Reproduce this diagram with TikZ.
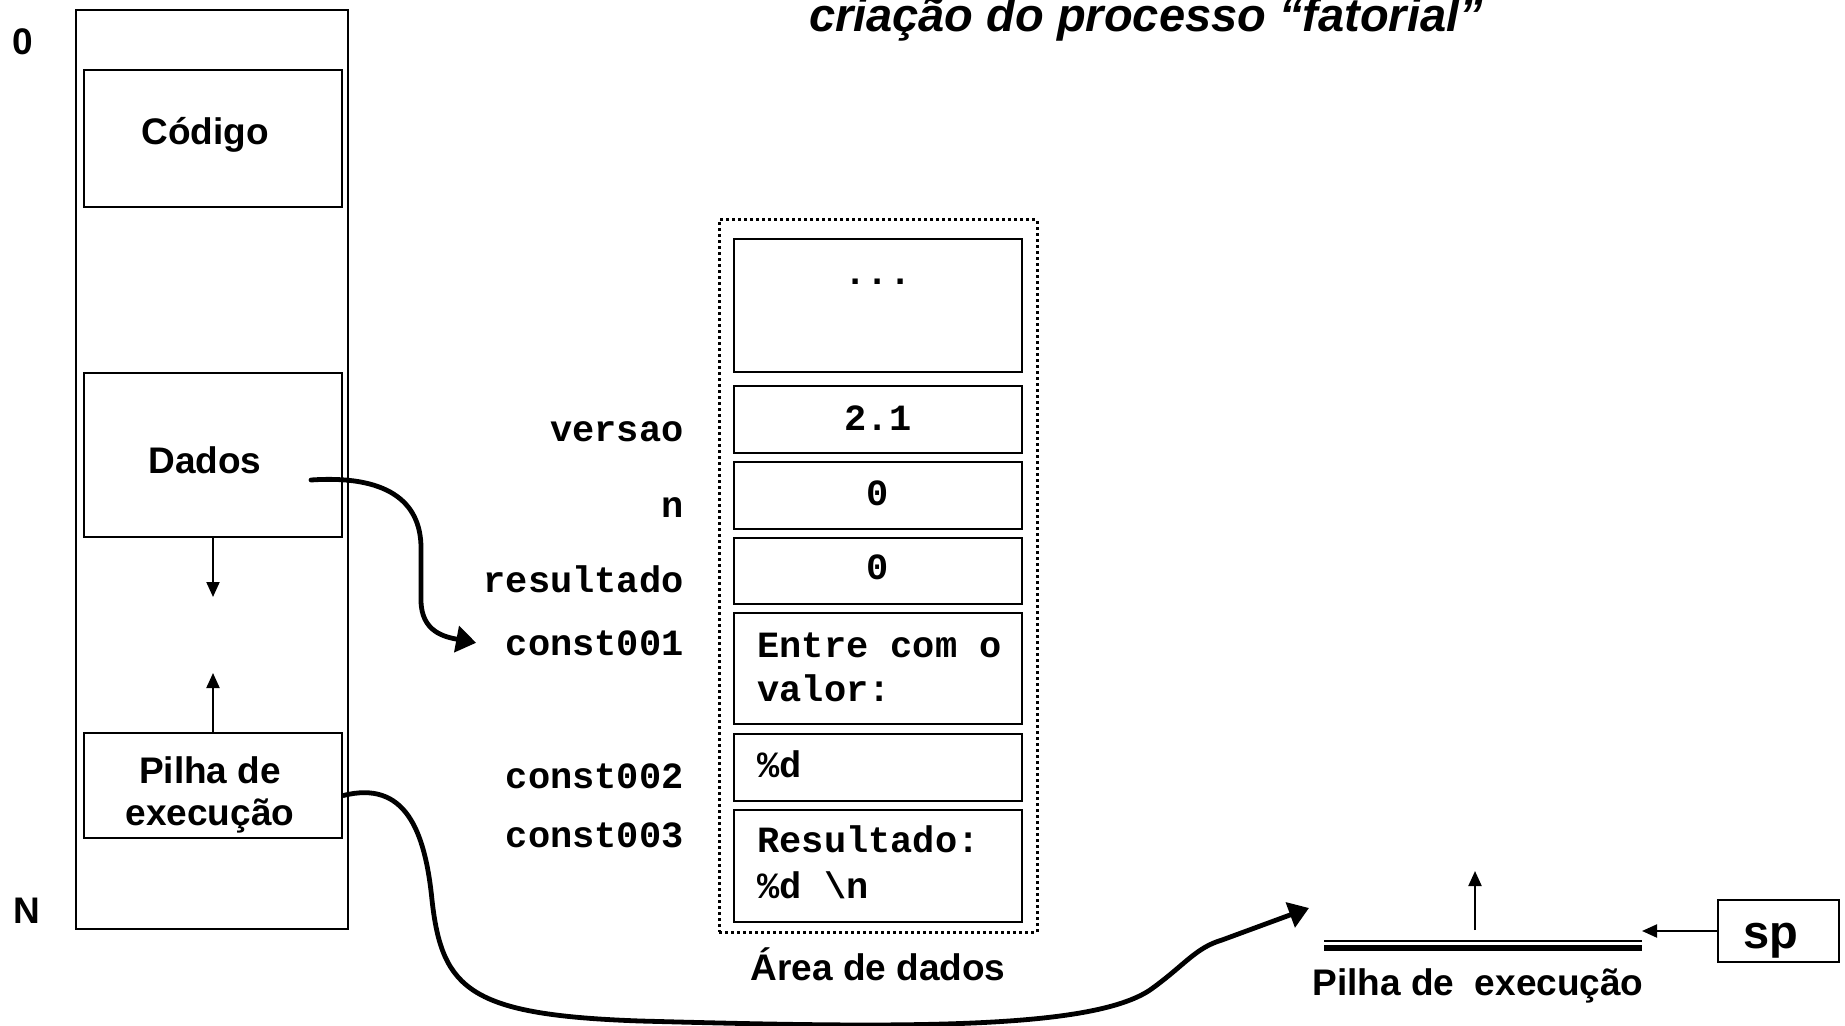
\documentclass[tikz,border=0pt]{standalone}
\usepackage{fontspec}
\setmainfont{Liberation Sans}
\setmonofont{Liberation Mono}
\usetikzlibrary{arrows.meta}

\begin{document}
\begin{tikzpicture}[x=0.5pt,y=0.5pt,yscale=-1,xscale=1,
  caixa/.style={draw, line width=1.35pt, inner sep=0pt},
  rotulo/.style={font=\bfseries\fontsize{18.5}{22.5}\selectfont, inner sep=0pt},
  mono/.style={font=\ttfamily\bfseries\fontsize{18.5}{22.5}\selectfont, inner sep=0pt},
  seta/.style={line width=1pt, -{Triangle[length=7.5pt,width=6.5pt]}},
  setagrossa/.style={line width=2.4pt, line cap=round, -{Triangle[length=10pt,width=13pt]}}]
\useasboundingbox (0,0) rectangle (1845,1026);

% Title
\draw (1146,32) node (titulo) [rotulo, anchor=base, font=\bfseries\itshape\fontsize{23.5}{28}\selectfont] {criação do processo “fatorial”};

%Shape: Rectangle (memoria do processo)
\node (memoria) [caixa, line width=1pt, minimum width=136pt, minimum height=459.5pt] at (212,469.5) {};
% Text Node
\draw (23,55) node (zero) [rotulo, anchor=base] {0};
% Text Node
\draw (27,923) node (fim) [rotulo, anchor=base] {N};

%Shape: Rectangle
\node (cod) [caixa, minimum width=129pt, minimum height=68.5pt] at (213,138.5) {};
% Text Node
\draw (205,145) node (codtxt) [rotulo, anchor=base] {Código};
%Shape: Rectangle
\node (dados) [caixa, minimum width=129pt, minimum height=82pt] at (213,455) {};
% Text Node
\draw (205,473) node (dadostxt) [rotulo, anchor=base] {Dados};
%Shape: Rectangle
\node (pilha) [caixa, minimum width=129pt, minimum height=52.5pt] at (213,785.5) {};
% Text Node
\draw (210,783) node (pilhatxt) [rotulo, anchor=base, font=\bfseries\fontsize{18.5}{21}\selectfont] {\begin{tabular}[t]{@{}c@{}}Pilha de\\execução\end{tabular}};

%Straight Lines
\coordinate (dadoscresce) at (213,597);
\draw [seta] (dados.south) -- (dadoscresce);
%Straight Lines
\coordinate (pilhacresce) at (213,673);
\draw [seta] (pilha.north) -- (pilhacresce);

%Shape: Rectangle (area de dados)
\node (area) [draw, line width=1.5pt, dash pattern=on 1.5pt off 1.5pt, minimum width=159pt, minimum height=356pt] at (878,576) {};
% Text Node
\draw (878,980) node (areatxt) [rotulo, anchor=base] {Área de dados};

%Shape: Rectangle
\node (vpont) [caixa, minimum width=144pt, minimum height=66.5pt] at (878,305.5) {};
\draw (878,285) node (vponttxt) [mono, anchor=base] {...};
%Shape: Rectangle
\node (vversao) [caixa, minimum width=144pt, minimum height=33.5pt] at (878,419.5) {};
\draw (878,430) node (vversaotxt) [mono, anchor=base] {2.1};
%Shape: Rectangle
\node (vn) [caixa, minimum width=144pt, minimum height=33.5pt] at (878,495.5) {};
\draw (878,505) node (vntxt) [mono, anchor=base] {0};
%Shape: Rectangle
\node (vres) [caixa, minimum width=144pt, minimum height=33pt] at (878,571) {};
\draw (878,579) node (vrestxt) [mono, anchor=base] {0};
%Shape: Rectangle
\node (vc1) [caixa, minimum width=144pt, minimum height=55.5pt] at (878,668.5) {};
\draw (757,657) node (vc1txt) [mono, anchor=base west, font=\ttfamily\bfseries\fontsize{18.5}{22}\selectfont] {\begin{tabular}[t]{@{}l@{}}Entre com o\\valor:\end{tabular}};
%Shape: Rectangle
\node (vc2) [caixa, minimum width=144pt, minimum height=33.5pt] at (878,767.5) {};
\draw (757,777) node (vc2txt) [mono, anchor=base west] {\%d};
%Shape: Rectangle
\node (vc3) [caixa, minimum width=144pt, minimum height=56pt] at (878,866) {};
\draw (757,852) node (vc3txt) [mono, anchor=base west, font=\ttfamily\bfseries\fontsize{18.5}{23}\selectfont] {\begin{tabular}[t]{@{}l@{}}Resultado:\\\%d \textbackslash n\end{tabular}};

% Text Node (nomes)
\draw (684,441) node (versao) [mono, anchor=base east] {versao};
\draw (684,517) node (n) [mono, anchor=base east] {n};
\draw (684,592) node (resultado) [mono, anchor=base east] {resultado};
\draw (684,655) node (const1) [mono, anchor=base east] {const001};
\draw (684,788) node (const2) [mono, anchor=base east] {const002};
\draw (684,847) node (const3) [mono, anchor=base east] {const003};

%Curve Lines (dados -> area de dados)
\draw [setagrossa] ([xshift=49pt,yshift=12.5pt]dados.center) .. controls (385,475) and (421,500) .. (421,548) -- (421,600) .. controls (421,632) and (445,637) .. ([xshift=-14.7pt]const1.west);

% Pilha de execucao (topo)
\coordinate (topoE) at (1324,941);
\coordinate (topoD) at (1642,941);
\draw [line width=1.25pt] (topoE) -- (topoD);
\draw [line width=3pt] ([yshift=3.4pt]topoE) -- ([yshift=3.4pt]topoD);
% Text Node
\draw (1478,995) node (topotxt) [rotulo, anchor=base] {Pilha de\ \ execução};
%Straight Lines
\coordinate (topoM) at (1475,930);
\coordinate (topocresce) at (1475,871);
\draw [seta] (topoM) -- (topocresce);

%Shape: Rectangle
\node (sp) [caixa, minimum width=60.5pt, minimum height=31pt] at (1778.5,931) {};
\draw (1771,948) node (sptxt) [rotulo, anchor=base, font=\bfseries\fontsize{23.5}{28}\selectfont] {sp};
%Straight Lines
\coordinate (spalvo) at (1642,931);
\draw [seta] (sp.west) -- (spalvo);

%Curve Lines (pilha -> pilha de execucao)
\coordinate (pilhaalvo) at (1309,908);
\draw [setagrossa] ([yshift=5pt]pilha.east) .. controls (405,780) and (425,830) .. (432,900) .. controls (442,990) and (470,1015) .. (640,1021) .. controls (900,1028) and (1090,1030) .. (1150,990) .. controls (1185,965) and (1195,948) .. (1222,940) -- (pilhaalvo);

\end{tikzpicture}
\end{document}
